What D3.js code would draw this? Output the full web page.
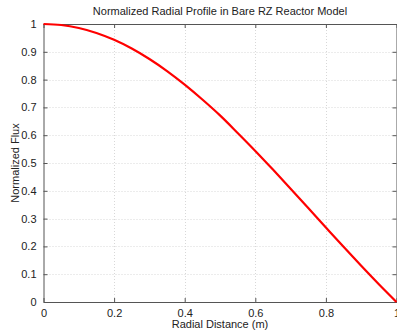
<!DOCTYPE html>
<html><head><meta charset="utf-8">
<script src="https://cdn.jsdelivr.net/npm/d3@7"></script>
<style>body{margin:0;background:#fff;}svg{display:block;font-family:"Liberation Sans",Arial,sans-serif;}</style>
</head><body>
<svg id="c" width="397" height="334"></svg>
<script>
const radius = [0,0.05,0.1,0.15,0.2,0.25,0.3,0.35,0.4,0.45,0.5,0.55,0.6,0.65,0.7,0.75,0.8,0.85,0.9,0.95,1.0];
const flux = [1,0.9964,0.9856,0.9677,0.9430,0.9117,0.8740,0.8306,0.7817,0.7283,0.6712,0.6081,0.5434,0.4763,0.4075,0.3378,0.2679,0.1984,0.1302,0.0638,0];
const xTicks = [0,0.2,0.4,0.6,0.8,1];
const yTicks = [0,0.1,0.2,0.3,0.4,0.5,0.6,0.7,0.8,0.9,1];
const xTickLabels = ["0","0.2","0.4","0.6","0.8","1"];
const yTickLabels = ["0","0.1","0.2","0.3","0.4","0.5","0.6","0.7","0.8","0.9","1"];

const L=43.5,R=396.5,T=24,B=302;
const svg=d3.select("#c");
const x=d3.scaleLinear().domain([0,1]).range([L,R]);
const y=d3.scaleLinear().domain([0,1]).range([B,T]);

// grid
const g=svg.append("g");
g.selectAll(".gx").data(xTicks.slice(1,-1)).join("line")
 .attr("x1",d=>Math.round(x(d))+0.5).attr("x2",d=>Math.round(x(d))+0.5).attr("y1",T).attr("y2",B)
 .attr("stroke","#d8d8d8").attr("stroke-dasharray","1,2");
g.selectAll(".gy").data(yTicks.slice(1,-1)).join("line")
 .attr("y1",d=>Math.round(y(d))+0.5).attr("y2",d=>Math.round(y(d))+0.5).attr("x1",L).attr("x2",R)
 .attr("stroke","#d8d8d8").attr("stroke-dasharray","1,2");

// axes
const ax=svg.append("g").attr("transform",`translate(0,${B})`)
 .call(d3.axisBottom(x).tickValues(xTicks).tickFormat((d,i)=>xTickLabels[i]).tickSizeInner(-4).tickSizeOuter(0).tickPadding(7));
const ay=svg.append("g").attr("transform",`translate(${L},0)`)
 .call(d3.axisLeft(y).tickValues(yTicks).tickFormat((d,i)=>yTickLabels[i]).tickSizeInner(-4).tickSizeOuter(0).tickPadding(7));
const at=svg.append("g").attr("transform",`translate(0,${T})`)
 .call(d3.axisTop(x).tickValues(xTicks).tickFormat("").tickSizeInner(-4).tickSizeOuter(0));
const ar=svg.append("g").attr("transform",`translate(${R},0)`)
 .call(d3.axisRight(y).tickValues(yTicks).tickFormat("").tickSizeInner(-4).tickSizeOuter(0));
[ax,ay,at,ar].forEach(a=>{
 a.selectAll("path,line").attr("stroke","#555");
 a.selectAll("text").attr("fill","#222").style("font-size","11px").style("font-family","'Liberation Sans',Arial,sans-serif");
});

// curve
svg.append("path").datum(radius.map((r,i)=>[r,flux[i]]))
 .attr("d",d3.line().x(d=>x(d[0])).y(d=>y(d[1])).curve(d3.curveMonotoneX))
 .attr("fill","none").attr("stroke","#ff0000").attr("stroke-width",2.2);

// labels
svg.append("text").attr("x",(L+R)/2).attr("y",15).attr("text-anchor","middle")
 .attr("fill","#222").style("font-size","11px").text("Normalized Radial Profile in Bare RZ Reactor Model");
svg.append("text").attr("x",(L+R)/2).attr("y",328).attr("text-anchor","middle")
 .attr("fill","#222").style("font-size","11px").text("Radial Distance (m)");
svg.append("text").attr("transform",`translate(19,${(T+B)/2}) rotate(-90)`).attr("text-anchor","middle")
 .attr("fill","#222").style("font-size","11px").text("Normalized Flux");
</script>
</body></html>
